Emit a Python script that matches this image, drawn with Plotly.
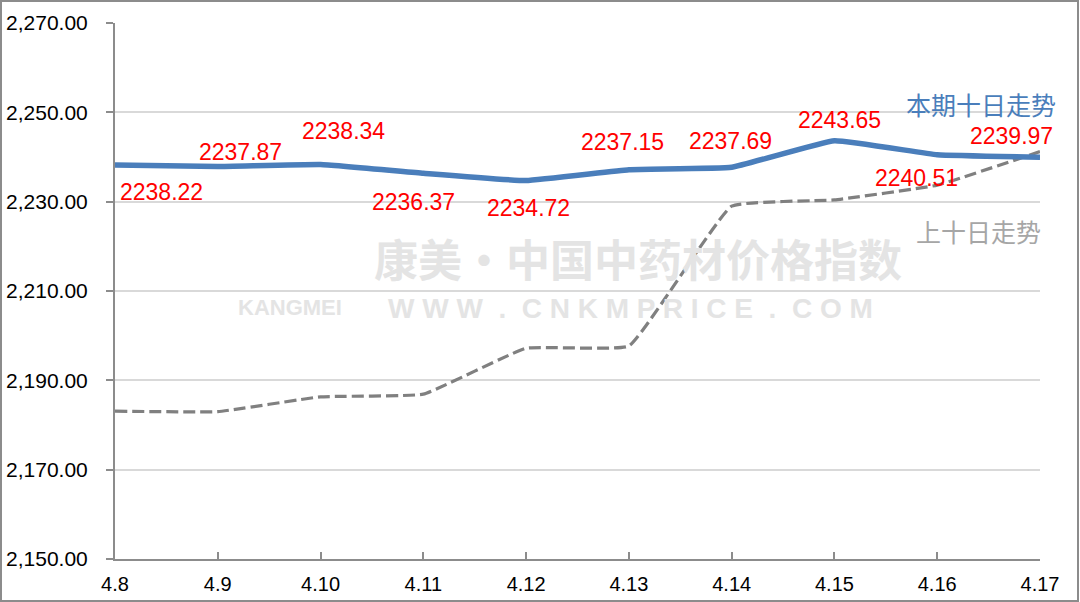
import plotly.graph_objects as go

# ---- data ----
dates = ["4.8", "4.9", "4.10", "4.11", "4.12", "4.13", "4.14", "4.15", "4.16", "4.17"]
current_vals = [2238.22, 2237.87, 2238.34, 2236.37, 2234.72, 2237.15, 2237.69, 2243.65, 2240.51, 2239.97]
previous_vals = [2183.1, 2183.0, 2186.3, 2186.9, 2197.2, 2197.7, 2229.0, 2230.4, 2233.7, 2241.2]
current_name = "本期十日走势"
previous_name = "上十日走势"
y_ticks = [2150, 2170, 2190, 2210, 2230, 2250, 2270]
# label offsets (pixels) relative to each point
label_dx = [46, 23, 23, -10, 2, -6, -1, 5, -21, -29]
label_dy = [-27, 15, 33, -29, -27, 28, 26, 21, -23, 21]

BLUE = "#4a7ebb"
GRAY = "#808080"
idx = list(range(len(dates)))

fig = go.Figure()
fig.add_trace(go.Scatter(
    x=idx, y=previous_vals, mode="lines", name=previous_name,
    line=dict(color=GRAY, width=3.2, dash="12px,5px", shape="spline", smoothing=0.3),
    hoverinfo="skip"))
fig.add_trace(go.Scatter(
    x=idx, y=current_vals, mode="lines", name=current_name,
    line=dict(color=BLUE, width=5.5, shape="spline", smoothing=0.3),
    hoverinfo="skip"))

ann = []
WM = "#e4e4e4"
# watermark
ann.append(dict(text="<b>康美·中国中药材价格指数</b>", xref="paper", yref="paper", x=0.565, y=0.562,
                showarrow=False, font=dict(family="Noto Sans CJK SC", size=44, color=WM),
                xanchor="center", yanchor="middle"))
ann.append(dict(text="<b>KANGMEI</b>", xref="paper", yref="paper", x=0.189, y=0.470,
                showarrow=False, font=dict(family="Liberation Sans Narrow, Liberation Sans", size=22, color=WM),
                xanchor="center", yanchor="middle"))
ann.append(dict(text="<b>W W W  .  C N K M P R I C E  .  C O M</b>", xref="paper", yref="paper", x=0.557, y=0.468,
                showarrow=False, font=dict(family="Liberation Sans", size=28, color=WM),
                xanchor="center", yanchor="middle"))

for i, v, dx, dy in zip(idx, current_vals, label_dx, label_dy):
    ann.append(dict(text=f"{v:.2f}", x=i, y=v, xref="x", yref="y", showarrow=False,
                    xshift=dx, yshift=dy,
                    font=dict(family="Liberation Sans", size=23, color="#ff0000")))

ann.append(dict(text=current_name, xref="paper", yref="paper", x=0.936, y=0.849, showarrow=False,
                font=dict(family="Noto Sans CJK SC", size=25, color=BLUE), xanchor="center", yanchor="middle"))
ann.append(dict(text=previous_name, xref="paper", yref="paper", x=0.934, y=0.612, showarrow=False,
                font=dict(family="Noto Sans CJK SC", size=25, color="#a6a6a6"), xanchor="center", yanchor="middle"))

W, H = 1080, 602
ml, mr, mt, mb = 115, 40, 23, 43
pw, ph = W - ml - mr, H - mt - mb

fig.update_layout(
    width=W, height=H,
    margin=dict(l=ml, r=mr, t=mt, b=mb),
    paper_bgcolor="white", plot_bgcolor="white",
    showlegend=False,
    annotations=ann,
    shapes=[dict(type="rect", xref="paper", yref="paper",
                 x0=-(ml - 1) / pw, x1=(W - 2 - ml) / pw,
                 y0=-(mb - 1) / ph, y1=(ph + mt - 1) / ph,
                 line=dict(color="#8c8c8c", width=2), fillcolor="rgba(0,0,0,0)", layer="below")],
    font=dict(family="Liberation Sans", color="black"),
)
fig.update_xaxes(
    tickmode="array", tickvals=idx, ticktext=dates,
    range=[0, len(dates) - 1], automargin=False,
    showline=True, linecolor="#8c8c8c", linewidth=2,
    ticks="inside", ticklen=7, tickcolor="#8c8c8c", tickwidth=1.5,
    showgrid=False, zeroline=False,
    tickfont=dict(size=20, color="black"), ticklabelstandoff=6,
)
fig.update_yaxes(
    range=[2150, 2270], tickvals=y_ticks, tickformat=",.2f", automargin=False,
    showline=True, linecolor="#8c8c8c", linewidth=2,
    ticks="outside", ticklen=7, tickcolor="#8c8c8c", tickwidth=1.5,
    showgrid=True, gridcolor="#d9d9d9", gridwidth=1.5, zeroline=False,
    tickfont=dict(size=21, color="black"), ticklabelstandoff=14,
)

fig.write_html("out.html", config={"displayModeBar": False},
               post_script="document.body.style.margin='0';document.body.style.padding='0';")
